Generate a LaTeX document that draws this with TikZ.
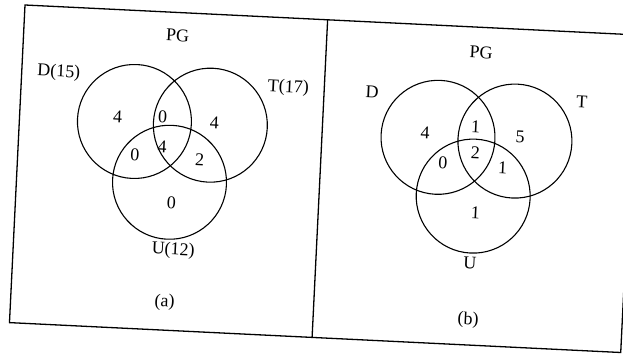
\documentclass[tikz,border=0pt]{standalone}
\usepackage{fontspec}
\setmainfont{Liberation Serif}

\begin{document}
\begin{tikzpicture}[
  x=1pt, y=-1pt,
  setcirc/.style={
    circle, draw=black, line width=1.1pt,
    minimum size=114pt, inner sep=0pt
  },
  num/.style={font=\fontsize{18}{20}\selectfont, inner sep=1pt},
  setname/.style={font=\fontsize{18}{20}\selectfont, inner sep=1pt},
  frame/.style={draw=black, line width=1.3pt}
]
\useasboundingbox (0,0) rectangle (623,353);

% the scan sits a little askew
\begin{scope}[shift={(25,5)}, rotate=-2.8, transform shape]

% Frame
\draw[frame] (0,0) rectangle (612,318);
\draw[frame] (303,0) -- (303,318);

% Panel (a)
\node[setcirc] (dA) at (115,111) {};
\node[setcirc] (tA) at (191,111) {};
\node[setcirc] (uA) at (153,170) {};

\node[setname] (pgA) at (154,23)  {PG};
\node[setname] (dnA) at (37,66)   {D(15)};
\node[setname] (tnA) at (267,70)  {T(17)};
\node[setname] (unA) at (160,238) {U(12)};
\node[setname] (capA) at (154,290) {(a)};

\node[num] (dOnlyA) at (98,107)  {4};
\node[num] (dtA)    at (143,105) {0};
\node[num] (tOnlyA) at (195,108) {4};
\node[num] (duA)    at (117,144) {0};
\node[num] (dtuA)   at (144,135) {4};
\node[num] (tuA)    at (182,146) {2};
\node[num] (uOnlyA) at (156,190) {0};

% Panel (b)
\node[setcirc] (dB) at (419,112) {};
\node[setcirc] (tB) at (496,112) {};
\node[setcirc] (uB) at (457,169) {};

\node[setname] (pgB) at (458,25)  {PG};
\node[setname] (dnB) at (351,70)  {D};
\node[setname] (tnB) at (561,70)  {T};
\node[setname] (unB) at (457,236) {U};
\node[setname] (capB) at (458,293) {(b)};

\node[num] (dOnlyB) at (406,108) {4};
\node[num] (dtB)    at (456,100) {1};
\node[num] (tOnlyB) at (501,108) {5};
\node[num] (duB)    at (425,137) {0};
\node[num] (dtuB)   at (457,126) {2};
\node[num] (tuB)    at (485,139) {1};
\node[num] (uOnlyB) at (460,186) {1};

\end{scope}
\end{tikzpicture}
\end{document}
